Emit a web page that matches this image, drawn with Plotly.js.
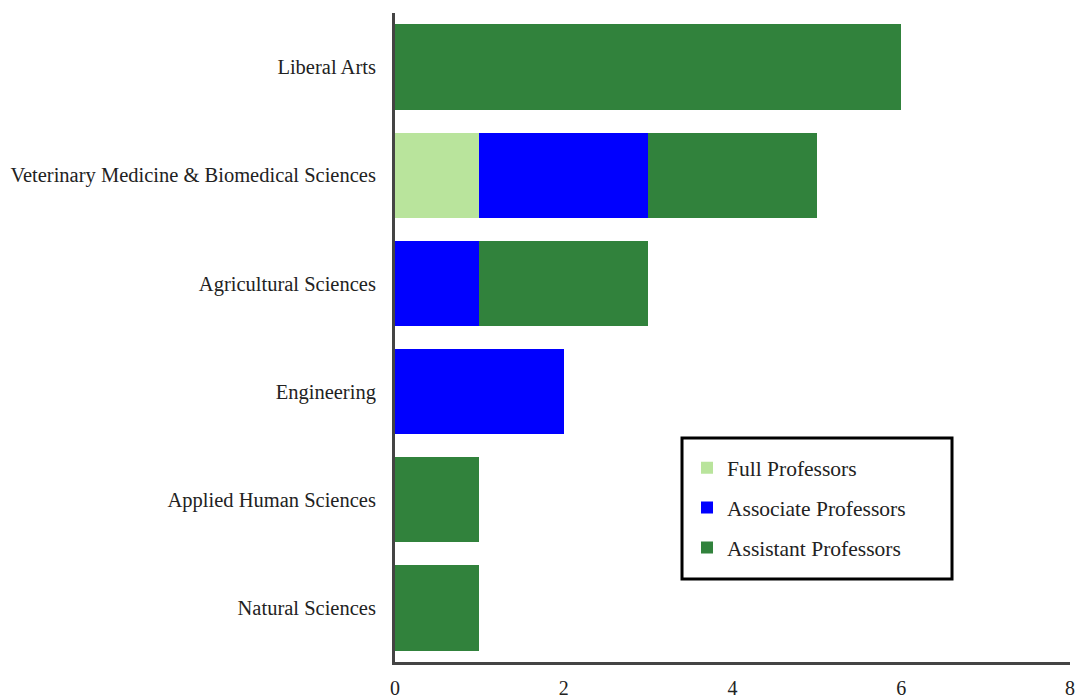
<!DOCTYPE html>
<html>
<head>
<meta charset="utf-8">
<script src="https://cdn.plot.ly/plotly-3.0.1.min.js"></script>
<style>html,body{margin:0;padding:0;background:#fff}#chart{width:1080px;height:700px}</style>
</head>
<body>
<div id="chart"></div>
<script>
const categories = ["Natural Sciences", "Applied Human Sciences", "Engineering", "Agricultural Sciences", "Veterinary Medicine & Biomedical Sciences", "Liberal Arts"];
const fullProfessors = [0, 0, 0, 0, 1, 0];
const associateProfessors = [0, 0, 2, 1, 2, 0];
const assistantProfessors = [1, 1, 0, 2, 2, 6];
const seriesNames = ["Full Professors", "Associate Professors", "Assistant Professors"];
const seriesColors = ["#b9e49c", "#0000ff", "#31823c"];
const xTicks = [0, 2, 4, 6, 8];

const font = "Liberation Serif, Times New Roman, serif";
const values = [fullProfessors, associateProfessors, assistantProfessors];
const traces = values.map((v, i) => ({
  type: "bar",
  orientation: "h",
  y: categories,
  x: v,
  name: seriesNames[i],
  legendgroup: "g" + i,
  marker: {color: seriesColors[i], line: {width: 0}},
  hoverinfo: "x+y+name"
}));

const layout = {
  width: 1080, height: 700,
  margin: {l: 395, r: 10, t: 13, b: 38},
  barmode: "stack",
  bargap: 0.21,
  paper_bgcolor: "#fff",
  plot_bgcolor: "#fff",
  font: {family: font, size: 20, color: "#222"},
  xaxis: {
    range: [0, 8],
    tickvals: xTicks,
    ticktext: xTicks.map(String),
    showgrid: false, zeroline: false,
    showline: true, linecolor: "#444", linewidth: 3,
    ticks: "", ticklabelstandoff: 6,
    tickfont: {family: font, size: 20, color: "#222"}
  },
  yaxis: {
    categoryorder: "array", categoryarray: categories,
    range: [-0.5, 5.5],
    showgrid: false, zeroline: false,
    showline: true, linecolor: "#444", linewidth: 3,
    ticks: "", ticklabelstandoff: 12,
    tickfont: {family: font, size: 20.5, color: "#222"}
  },
  shapes: [{
    type: "rect", xref: "paper", yref: "paper",
    x0: 0.4252, x1: 0.8252, y0: 0.1279, y1: 0.3451,
    line: {color: "#000", width: 3}, fillcolor: "rgba(0,0,0,0)", layer: "above"
  }],
  showlegend: true,
  legend: {
    x: 0.4326, y: 0.331, xanchor: "left", yanchor: "top",
    borderwidth: 0, bgcolor: "rgba(255,255,255,0)",
    traceorder: "grouped", tracegroupgap: 9,
    font: {family: font, size: 21.5, color: "#222"},
    itemwidth: 30
  }
};

Plotly.newPlot("chart", traces, layout, {displayModeBar: false, staticPlot: true});
</script>
</body>
</html>
